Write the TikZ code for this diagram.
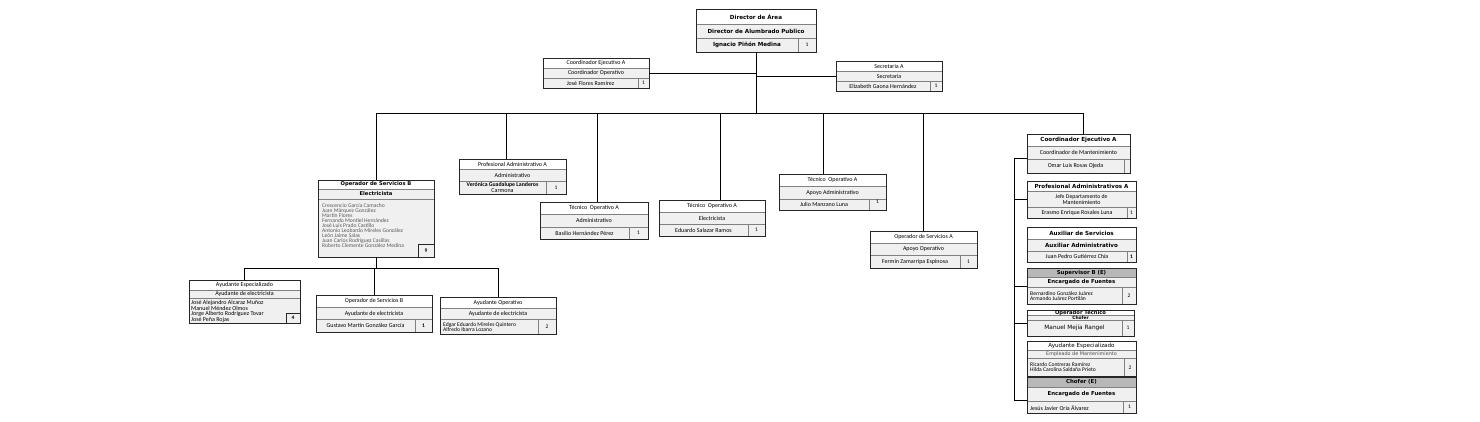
\documentclass[tikz,border=0pt]{standalone}
\usepackage{fontspec}
\setmainfont{Carlito}
\newfontfamily\dvs{DejaVu Sans}
\usetikzlibrary{fit,shadows}
\newcommand{\fsz}[1]{\fontsize{#1}{#1}\selectfont}
\newcommand{\dvb}{\dvs\bfseries}
\tikzset{
  obox/.style={draw=black!85, line width=0.6pt, fill=white, inner sep=0pt,
    drop shadow={shadow xshift=1.2pt, shadow yshift=-1.2pt, fill=black!55, opacity=1}},
  rowfill/.style={fill=black!6},
  rowline/.style={draw=black!50, line width=0.5pt},
  oline/.style={draw=black!85, line width=0.6pt},
  titlegray/.style={fill=black!28},
  conn/.style={draw=black, line width=0.8pt},
  tt/.style={inner sep=0pt, align=center, font=\fsz{6}},
  lt/.style={inner sep=0pt, align=left, anchor=west, font=\fsz{6}},
  numt/.style={inner sep=0pt, font=\fsz{5.5}}
}
% #1 name, #2 x1, #3 y1, #4 x2, #5 y2, #6 row line 1, #7 row line 2, #8 number divider, #9 number
\newcommand{\orgbox}[9]{%
  \node[obox, fit={(#2,#3) (#4,#5)}] (#1) {};
  \fill[rowfill] (#2,#6) rectangle (#4,#5);
  \draw[rowline] (#2,#6) -- (#4,#6);
  \draw[rowline] (#2,#7) -- (#4,#7);
  \draw[rowline] (#8,#7) -- (#8,#5);
  \draw[oline] (#2,#3) rectangle (#4,#5);
  \node[numt] (#1-n) at ({(#8+#4)/2},{(#7+#5)/2}) {#9};
  \def\bxl{#2}\def\bxt{#3}\def\bxr{#4}\def\bxb{#5}\def\bda{#6}\def\bdb{#7}\def\bnx{#8}%
}
\newcommand{\orgtxt}[4]{%
  \node[tt] (#1-a) at ({(\bxl+\bxr)/2},{(\bxt+\bda)/2}) {#2};
  \node[tt] (#1-b) at ({(\bxl+\bxr)/2},{(\bda+\bdb)/2}) {#3};
  \node[tt] (#1-c) at ({(\bxl+\bnx)/2},{(\bdb+\bxb)/2}) {#4};
}
\newcommand{\orgtwo}[3]{%
  \node[tt] (#1-a) at ({(\bxl+\bxr)/2},{(\bxt+\bda)/2}) {#2};
  \node[tt] (#1-b) at ({(\bxl+\bxr)/2},{(\bda+\bdb)/2}) {#3};
}
\newcommand{\graytitle}{%
  \fill[titlegray] (\bxl,\bxt) rectangle (\bxr,\bda);
  \draw[rowline] (\bxl,\bda) -- (\bxr,\bda);
  \draw[oline] (\bxl,\bxt) rectangle (\bxr,\bxb);
}
\begin{document}
\begin{tikzpicture}[x=1pt,y=-1pt]
\useasboundingbox (0,0) rectangle (1480,422);
\fill[white] (0,0) rectangle (1480,422);

% ---------- top level ----------
\orgbox{dir}{696}{9}{816}{52}{24}{38}{798}{1}
\orgtxt{dir}{\dvb\fsz{5.6}Director de Área}{\dvb\fsz{5.6}Director de Alumbrado Publico}{\dvb\fsz{5.6}Ignacio Piñón Medina}

\orgbox{coe}{543}{58}{649}{88}{68}{78}{638}{1}
\orgtxt{coe}{Coordinador Ejecutivo A}{Coordinador Operativo}{José Flores Ramírez}

\orgbox{sec}{836}{61}{942}{91}{71}{81}{930}{1}
\orgtxt{sec}{Secretaria A}{Secretaria}{Elizabeth Gaona Hernández}

% ---------- second level ----------
\node[obox, fit={(318,180) (434,257)}] (osb) {};
\fill[rowfill] (318,189) rectangle (434,257);
\draw[rowline] (318,189) -- (434,189);
\draw[rowline] (318,199) -- (434,199);
\draw[oline] (418,244) rectangle (434,257);
\draw[oline] (318,180) rectangle (434,257);
\node[numt] (osb-n) at (426,250.5) {\bfseries 9};
\node[tt] (osb-a) at (376,184.5) {\dvb\fsz{5.2}Operador de Servicios B};
\node[tt] (osb-b) at (376,194) {\dvb\fsz{5.2}Electricista};
\node[lt, anchor=north west, text=black!65, font=\fontsize{5.6}{4.95}\selectfont] (osb-c) at (322,203.5)
  {Crescencio García Camacho\\Juan Márquez González\\Martín Flores\\Fernando Montiel Hernández\\José Luis Prado Castillo\\Antonio Leobardo Mireles González\\León Jaime Salas\\Juan Carlos Rodríguez Casillas\\Roberto Clemente González Medina};

\orgbox{pra}{459}{159}{566}{194}{169}{181}{546}{1}
\orgtxt{pra}{Profesional Administrativo A}{Administrativo}{\bfseries\fontsize{5.8}{5}\selectfont Verónica Guadalupe Landeros\\Carmona}

\orgbox{toa1}{540}{202}{648}{239}{214}{227}{629}{1}
\orgtxt{toa1}{Técnico~ Operativo A}{Administrativo}{Basilio Hernández Pérez}

\orgbox{toa2}{659}{200}{765}{236}{212.5}{224}{748}{1}
\orgtxt{toa2}{Técnico~ Operativo A}{Electricista}{Eduardo Salazar Ramos}

\orgbox{toa3}{779}{174}{886}{210}{186.5}{199}{869}{}
\node[numt] (toa3-n) at (877.5,202) {1};
\orgtxt{toa3}{Técnico~ Operativo A}{Apoyo Administrativo}{Julio Manzano Luna}

\orgbox{osa}{870}{231}{977}{268}{243}{255}{960}{1}
\orgtxt{osa}{Operador de Servicios A}{Apoyo Operativo}{Fermín Zamarripa Espinosa}

% ---------- third level ----------
\node[obox, fit={(189,280) (300,323)}] (aye) {};
\fill[rowfill] (189,290) rectangle (300,323);
\draw[rowline] (189,290) -- (300,290);
\draw[rowline] (189,298.5) -- (300,298.5);
\draw[oline] (286,313) rectangle (300,323);
\draw[oline] (189,280) rectangle (300,323);
\node[numt] (aye-n) at (293,318) {\bfseries 4};
\node[tt] (aye-a) at (244.5,285) {Ayudante Especializado};
\node[tt] (aye-b) at (244.5,294.3) {Ayudante de electricista};
\node[lt, anchor=north west, font=\fontsize{6}{4.8}\selectfont] (aye-c) at (191,300)
  {José Alejandro Alcaraz Muñoz\\Manuel Méndez Olmos\\Jorge Alberto Rodríguez Tovar\\José Peña Rojas};

\orgbox{osb2}{316}{295}{432}{332}{307.5}{319.5}{415}{\bfseries 1}
\orgtxt{osb2}{Operador de Servicios B}{Ayudante de electricista}{Gustavo Martín González García}

\orgbox{ayo}{440}{297}{556}{334}{308}{319.5}{538}{2}
\orgtwo{ayo}{Ayudante Operativo}{Ayudante de electricista}
\node[lt, font=\fontsize{5.6}{5}\selectfont] (ayo-c) at (443,326.8) {Edgar Eduardo Mireles Quintero\\Alfredo Ibarra Lozano};

% ---------- right column ----------
\orgbox{rce}{1027}{134}{1130}{173}{146}{159}{1124}{}
\orgtxt{rce}{\dvb\fsz{5.6}Coordinador Ejecutivo A}{Coordinador de Mantenimiento}{Omar Luis Rosas Ojeda}

\orgbox{rpa}{1027}{181}{1136}{218}{191}{207.5}{1127}{1}
\orgtxt{rpa}{\dvb\fsz{5.6}Profesional Administrativos A}{\fontsize{5.8}{5}\selectfont Jefe Departamento de\\Mantenimiento}{Erasmo Enrique Rosales Luna}

\orgbox{rau}{1027}{227}{1136}{262}{239.5}{251.5}{1127}{\bfseries 1}
\orgtxt{rau}{\dvb\fsz{5.6}Auxiliar de Servicios}{\dvb\fsz{5.6}Auxiliar Administrativo}{Juan Pedro Gutiérrez Chía}

\orgbox{rsu}{1027}{268}{1136}{304}{277.5}{287.5}{1122}{2}
\graytitle
\orgtwo{rsu}{\dvb\fsz{5.4}Supervisor B (E)}{\dvb\fsz{5.4}Encargado de Fuentes}
\node[lt, font=\fontsize{5.6}{5}\selectfont] (rsu-c) at (1030,295.8) {Bernardino González Juárez\\Armando Juárez Portilán};

\orgbox{rot}{1027}{310}{1134}{336}{315.5}{320}{1122}{1}
\orgtxt{rot}{\dvb\fsz{5.2}Operador Técnico}{\dvb\fsz{4.4}Chofer}{\dvs\fsz{5.8}Manuel Mejía Rangel}

\orgbox{raye}{1027}{341}{1136}{376}{350}{358.5}{1124}{2}
\orgtwo{raye}{\dvs\fsz{5.6}Ayudante Especializado}{\dvs\color{black!70}\fsz{4.9}Empleado de Mantenimiento}
\node[lt, font=\fontsize{5.6}{5}\selectfont] (raye-c) at (1030,367.3) {Ricardo Contreras Ramírez\\Hilda Carolina Saldaña Prieto};

\orgbox{rch}{1027}{377}{1136}{413}{387}{401}{1123}{1}
\graytitle
\orgtwo{rch}{\dvb\fsz{5.4}Chofer (E)}{\dvb\fsz{5.4}Encargado de Fuentes}
\node[lt] (rch-c) at (1030,408) {Jesús Javier Oria Álvarez};

% ---------- connectors ----------
\coordinate (busL) at (osb.north |- {(0,113)});
\coordinate (dpra) at (506,113);
\coordinate (dtoa1) at (597,113);
\coordinate (dtoa2) at (720,113);
\coordinate (dtoa3) at (823,113);
\coordinate (dosa) at (923,113);
\coordinate (drce) at (1083,113);
\draw[conn] (dir.south) -- (dir.south |- busL);
\draw[conn] (coe.east) -- (coe.east -| dir.south);
\draw[conn] (sec.west) -- (sec.west -| dir.south);
\draw[conn] (osb.north) -- (busL) -- (drce) -- (drce |- rce.north);
\draw[conn] (dpra) -- (dpra |- pra.north);
\draw[conn] (dtoa1) -- (dtoa1 |- toa1.north);
\draw[conn] (dtoa2) -- (dtoa2 |- toa2.north);
\draw[conn] (dtoa3) -- (dtoa3 |- toa3.north);
\draw[conn] (dosa) -- (dosa |- osa.north);

\coordinate (sbus) at (osb.south |- {(0,268)});
\draw[conn] (osb.south) -- (sbus);
\draw[conn] (aye.north) -- (aye.north |- sbus) -- (ayo.north |- sbus) -- (ayo.north);
\draw[conn] (osb2.north) -- (osb2.north |- sbus);

\coordinate (sptop) at (1014,158);
\coordinate (spbot) at (1014,400);
\draw[conn] (rce.west |- sptop) -- (sptop) -- (spbot) -- (rch.west |- spbot);
\draw[conn] (rpa.west) -- (rpa.west -| sptop);
\draw[conn] (rsu.west) -- (rsu.west -| sptop);
\draw[conn] (rot.west) -- (rot.west -| sptop);
\end{tikzpicture}
\end{document}
